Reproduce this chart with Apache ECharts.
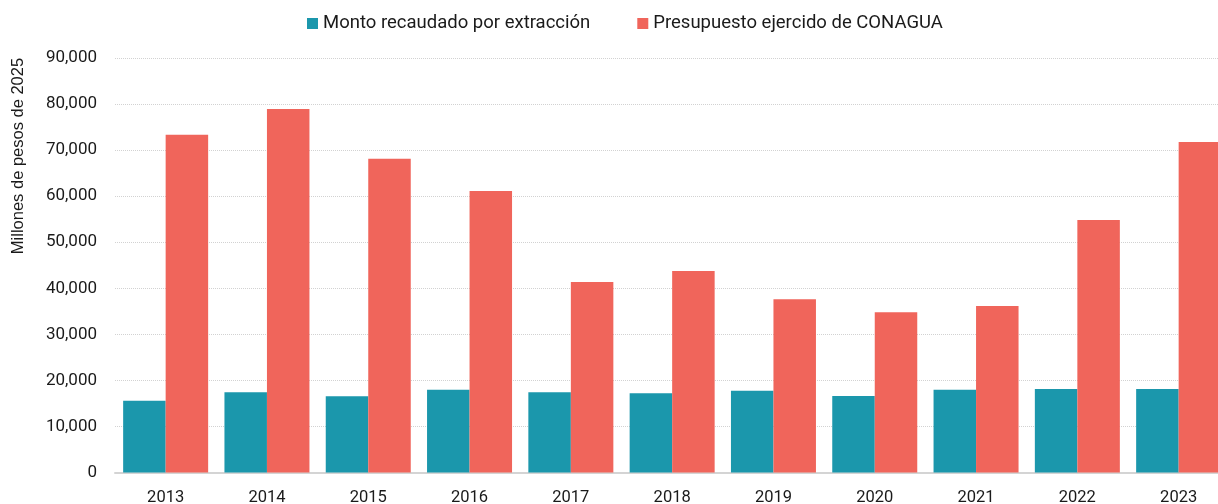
<!DOCTYPE html>
<html>
<head>
<meta charset="utf-8">
<script src="https://cdn.jsdelivr.net/npm/echarts@6/dist/echarts.min.js"></script>
<style>
html,body{margin:0;padding:0;background:#fff;overflow:hidden;}
#chart{width:1218px;height:504px;}
</style>
</head>
<body>
<div id="chart"></div>
<script>
const categories = ['2013','2014','2015','2016','2017','2018','2019','2020','2021','2022','2023'];
const montoRecaudado = [15590, 17410, 16540, 17980, 17410, 17190, 17760, 16610, 17980, 18150, 18150];
const presupuestoConagua = [73340, 78920, 68130, 61120, 41360, 43750, 37600, 34780, 36150, 54820, 71750];
const seriesNames = ['Monto recaudado por extracción', 'Presupuesto ejercido de CONAGUA'];
const yTicks = { min: 0, max: 90000, interval: 10000 };
const yAxisTitle = 'Millones de pesos de 2025';

const chart = echarts.init(document.getElementById('chart'), null, { renderer: 'canvas' });
const fontFam = 'Roboto, "Liberation Sans", sans-serif';
chart.setOption({
  animation: false,
  backgroundColor: '#ffffff',
  legend: {
    top: 9,
    left: 302,
    itemWidth: 11,
    itemHeight: 11,
    itemGap: 47,
    icon: 'rect',
    textStyle: { fontFamily: fontFam, fontSize: 18.5, color: '#1a1a1a', padding: [0, 0, 0, 0] },
    data: seriesNames
  },
  graphic: [{
    type: 'text',
    x: 18,
    y: 156,
    rotation: Math.PI / 2,
    style: {
      text: yAxisTitle,
      fill: '#1a1a1a',
      font: '16.5px "Liberation Sans", Arial, sans-serif',
      align: 'center',
      verticalAlign: 'middle'
    }
  }],
  grid: { left: 115, top: 58, height: 414.5, width: 1114.3, containLabel: false, outerBoundsMode: 'none' },
  xAxis: {
    type: 'category',
    data: categories,
    axisLine: { show: true, lineStyle: { color: '#d4d4d4', width: 2 } },
    axisTick: { show: false },
    axisLabel: { fontFamily: fontFam, fontSize: 16.5, color: '#1a1a1a', margin: 17 }
  },
  yAxis: {
    type: 'value',
    min: yTicks.min,
    max: yTicks.max,
    interval: yTicks.interval,
    axisLine: { show: false },
    axisTick: { show: false },
    axisLabel: {
      fontFamily: fontFam, fontSize: 17, color: '#1a1a1a', margin: 18,
      formatter: v => v.toLocaleString('en-US')
    },
    splitLine: { show: true, lineStyle: { color: '#d2d2d2', type: [1, 1], width: 1 } }
  },
  series: [
    {
      name: seriesNames[0],
      type: 'bar',
      data: montoRecaudado,
      barWidth: 42.5,
      barGap: '0%',
      itemStyle: { color: '#1b97ac' }
    },
    {
      name: seriesNames[1],
      type: 'bar',
      data: presupuestoConagua,
      barWidth: 42.5,
      barGap: '0%',
      itemStyle: { color: '#f0655b' }
    }
  ]
});
</script>
</body>
</html>
